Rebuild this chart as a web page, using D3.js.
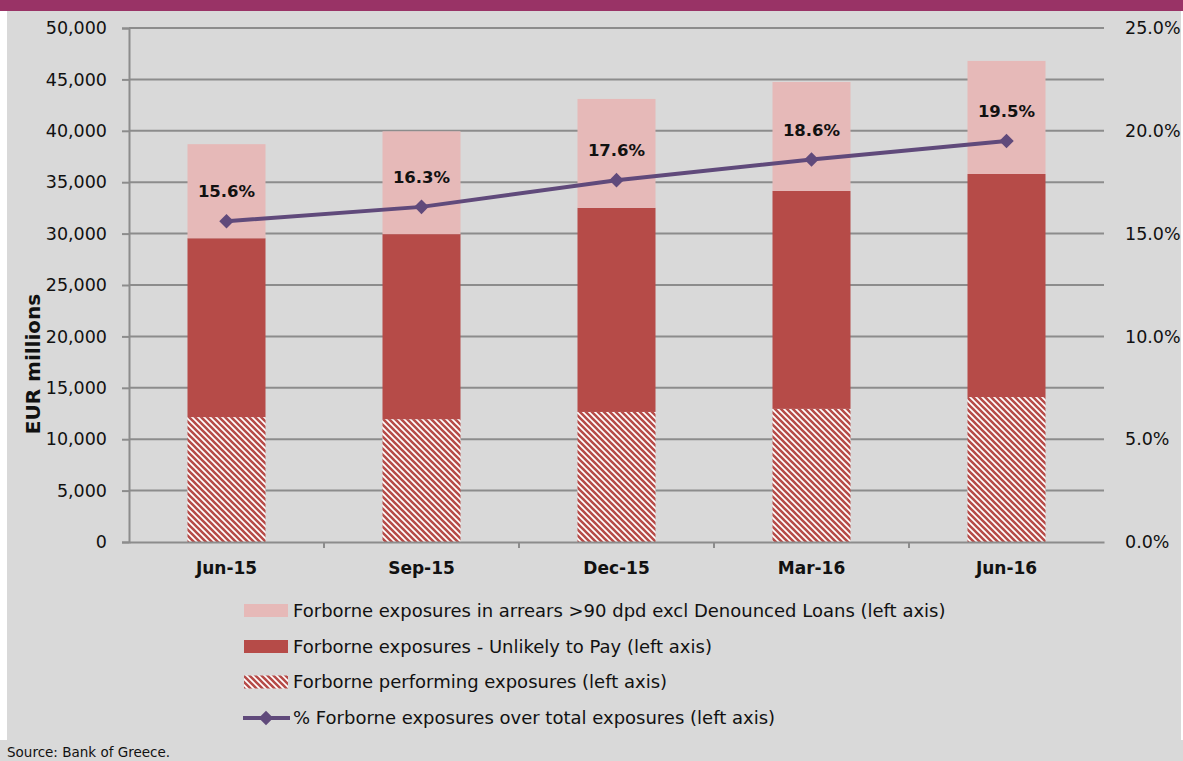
<!DOCTYPE html>
<html>
<head>
<meta charset="utf-8">
<script src="https://cdn.jsdelivr.net/npm/d3@7"></script>
<style>
  html, body { margin: 0; padding: 0; background: #fff; }
  svg { display: block; }
  svg text { font-family: "DejaVu Sans", sans-serif; }
</style>
</head>
<body>
<div id="chart"></div>
<script>
// data (EUR millions, cumulative heights are stacked below)
const periods = ["Jun-15", "Sep-15", "Dec-15", "Mar-16", "Jun-16"];
const performing = [12150, 11950, 12650, 12950, 14100];
const unlikelyToPay = [17400, 18000, 19850, 21200, 21700];
const arrears90 = [9150, 10000, 10600, 10600, 11000];
const forbornePct = [15.6, 16.3, 17.6, 18.6, 19.5];

const leftTicks = [0, 5000, 10000, 15000, 20000, 25000, 30000, 35000, 40000, 45000, 50000];
const rightTicks = [0, 5, 10, 15, 20, 25];

const legendLabels = [
  "Forborne exposures in arrears >90 dpd excl Denounced Loans (left axis)",
  "Forborne exposures - Unlikely to Pay (left axis)",
  "Forborne performing exposures (left axis)",
  "% Forborne exposures over total exposures (left axis)"
];

const W = 1183, H = 761;
const m = { left: 129, right: 1104, top: 28, bottom: 542 };

const col = {
  band: "#993366",
  bg: "#d9d9d9",
  pink: "#e6b9b8",
  red: "#b64b48",
  line: "#604a7b",
  grid: "#8c8c8c"
};

const svg = d3.select("#chart").append("svg")
  .attr("width", W).attr("height", H);

// hatch for performing exposures
const defs = svg.append("defs");
const pat = defs.append("pattern")
  .attr("id", "hatch")
  .attr("patternUnits", "userSpaceOnUse")
  .attr("width", 6).attr("height", 6);
pat.append("rect").attr("width", 6).attr("height", 6).attr("fill", "#fff");
pat.append("path")
  .attr("d", "M-1,-1 L7,7 M-4,2 L2,8 M4,-2 L8,2")
  .attr("stroke", col.red).attr("stroke-width", 2.6);

// background
svg.append("rect").attr("width", W).attr("height", H).attr("fill", "#fff");
svg.append("rect").attr("x", 7).attr("y", 0).attr("width", 1174).attr("height", 740).attr("fill", col.bg);
svg.append("rect").attr("x", 0).attr("y", 740).attr("width", W).attr("height", 21).attr("fill", col.bg);
svg.append("rect").attr("x", 0).attr("y", 0).attr("width", W).attr("height", 11).attr("fill", col.band);

const x = d3.scaleBand().domain(periods).range([m.left, m.right]).paddingInner(0.6).paddingOuter(0.3);
const xb = d3.scaleBand().domain(periods).range([m.left, m.right]);
const y = d3.scaleLinear().domain([0, 50000]).range([m.bottom, m.top]);
const y2 = d3.scaleLinear().domain([0, 25]).range([m.bottom, m.top]);

// gridlines + left axis
const yAxis = d3.axisLeft(y).tickValues(leftTicks).tickSize(7).tickPadding(15)
  .tickFormat(d3.format(","));
const gy = svg.append("g").attr("transform", `translate(${m.left},0)`).call(yAxis)
  .attr("font-family", null);
gy.select(".domain").attr("stroke", col.grid).attr("stroke-width", 2);
gy.selectAll(".tick line").attr("stroke", col.grid).attr("stroke-width", 2);
gy.selectAll(".tick text").attr("fill", "#111").style("font-size", "17.5px");

svg.append("g").selectAll("line").data(leftTicks.slice(1)).join("line")
  .attr("x1", m.left).attr("x2", m.right)
  .attr("y1", d => y(d)).attr("y2", d => y(d))
  .attr("stroke", col.grid).attr("stroke-width", 2);

// right axis labels
const y2Axis = d3.axisRight(y2).tickValues(rightTicks).tickSize(0).tickPadding(21)
  .tickFormat(d => d3.format(".1f")(d) + "%");
const gy2 = svg.append("g").attr("transform", `translate(${m.right},0)`).call(y2Axis)
  .attr("font-family", null);
gy2.select(".domain").remove();
gy2.selectAll(".tick text").attr("fill", "#111").style("font-size", "17.5px");

// stacked bars
const stackRows = periods.map((p, i) => ({ p, perf: performing[i], utp: unlikelyToPay[i], arr: arrears90[i] }));
const series = d3.stack().keys(["perf", "utp", "arr"])(stackRows);
const fills = { perf: "url(#hatch)", utp: col.red, arr: col.pink };

svg.append("g").selectAll("g").data(series).join("g")
  .attr("fill", s => fills[s.key])
  .selectAll("rect").data(s => s).join("rect")
  .attr("x", d => x(d.data.p))
  .attr("width", x.bandwidth())
  .attr("y", d => y(d[1]))
  .attr("height", d => y(d[0]) - y(d[1]));

// bottom axis
const xAxis = d3.axisBottom(xb).tickSize(0).tickPadding(20);
const gx = svg.append("g").attr("transform", `translate(0,${m.bottom})`).call(xAxis)
  .attr("font-family", null);
gx.select(".domain").attr("stroke", col.grid).attr("stroke-width", 2);
gx.selectAll(".tick text").attr("fill", "#111").style("font-size", "17px").style("font-weight", "bold");
svg.append("g").selectAll("line").data(periods.slice(1)).join("line")
  .attr("x1", d => xb(d)).attr("x2", d => xb(d))
  .attr("y1", m.bottom).attr("y2", m.bottom + 6)
  .attr("stroke", col.grid).attr("stroke-width", 2);

// line
const cx = p => x(p) + x.bandwidth() / 2;
const line = d3.line().x((d, i) => cx(periods[i])).y(d => y2(d));
svg.append("path").datum(forbornePct)
  .attr("d", line).attr("fill", "none")
  .attr("stroke", col.line).attr("stroke-width", 4);

const diamond = d3.symbol().type(d3.symbolDiamond2).size(135);
svg.append("g").selectAll("path").data(forbornePct).join("path")
  .attr("d", diamond)
  .attr("transform", (d, i) => `translate(${cx(periods[i])},${y2(d)})`)
  .attr("fill", col.line);

svg.append("g").selectAll("text").data(forbornePct).join("text")
  .attr("x", (d, i) => cx(periods[i]))
  .attr("y", d => y2(d) - 24)
  .attr("text-anchor", "middle")
  .style("font-size", "16.5px").style("font-weight", "bold")
  .attr("fill", "#111")
  .text(d => d3.format(".1f")(d) + "%");

// y title
svg.append("text")
  .attr("transform", "translate(40,364) rotate(-90)")
  .attr("text-anchor", "middle")
  .style("font-size", "20px").style("font-weight", "bold")
  .attr("fill", "#111")
  .text("EUR millions");

// legend
const legY = [610.5, 646.5, 682, 718];
const lg = svg.append("g");
const swFill = [col.pink, col.red, "url(#hatch)"];
swFill.forEach((f, i) => {
  lg.append("rect").attr("x", 244).attr("y", legY[i] - 6.5).attr("width", 44).attr("height", 13).attr("fill", f);
});
lg.append("line").attr("x1", 243).attr("x2", 290).attr("y1", legY[3]).attr("y2", legY[3])
  .attr("stroke", col.line).attr("stroke-width", 4);
lg.append("path").attr("d", diamond).attr("transform", `translate(266,${legY[3]})`).attr("fill", col.line);
lg.selectAll("text").data(legendLabels).join("text")
  .attr("x", 293).attr("y", (d, i) => legY[i])
  .attr("dy", "0.35em")
  .style("font-size", "18px").attr("fill", "#111")
  .text(d => d);

svg.append("text").attr("x", 7).attr("y", 757)
  .style("font-size", "13.5px").attr("fill", "#111")
  .text("Source: Bank of Greece.");
</script>
</body>
</html>
